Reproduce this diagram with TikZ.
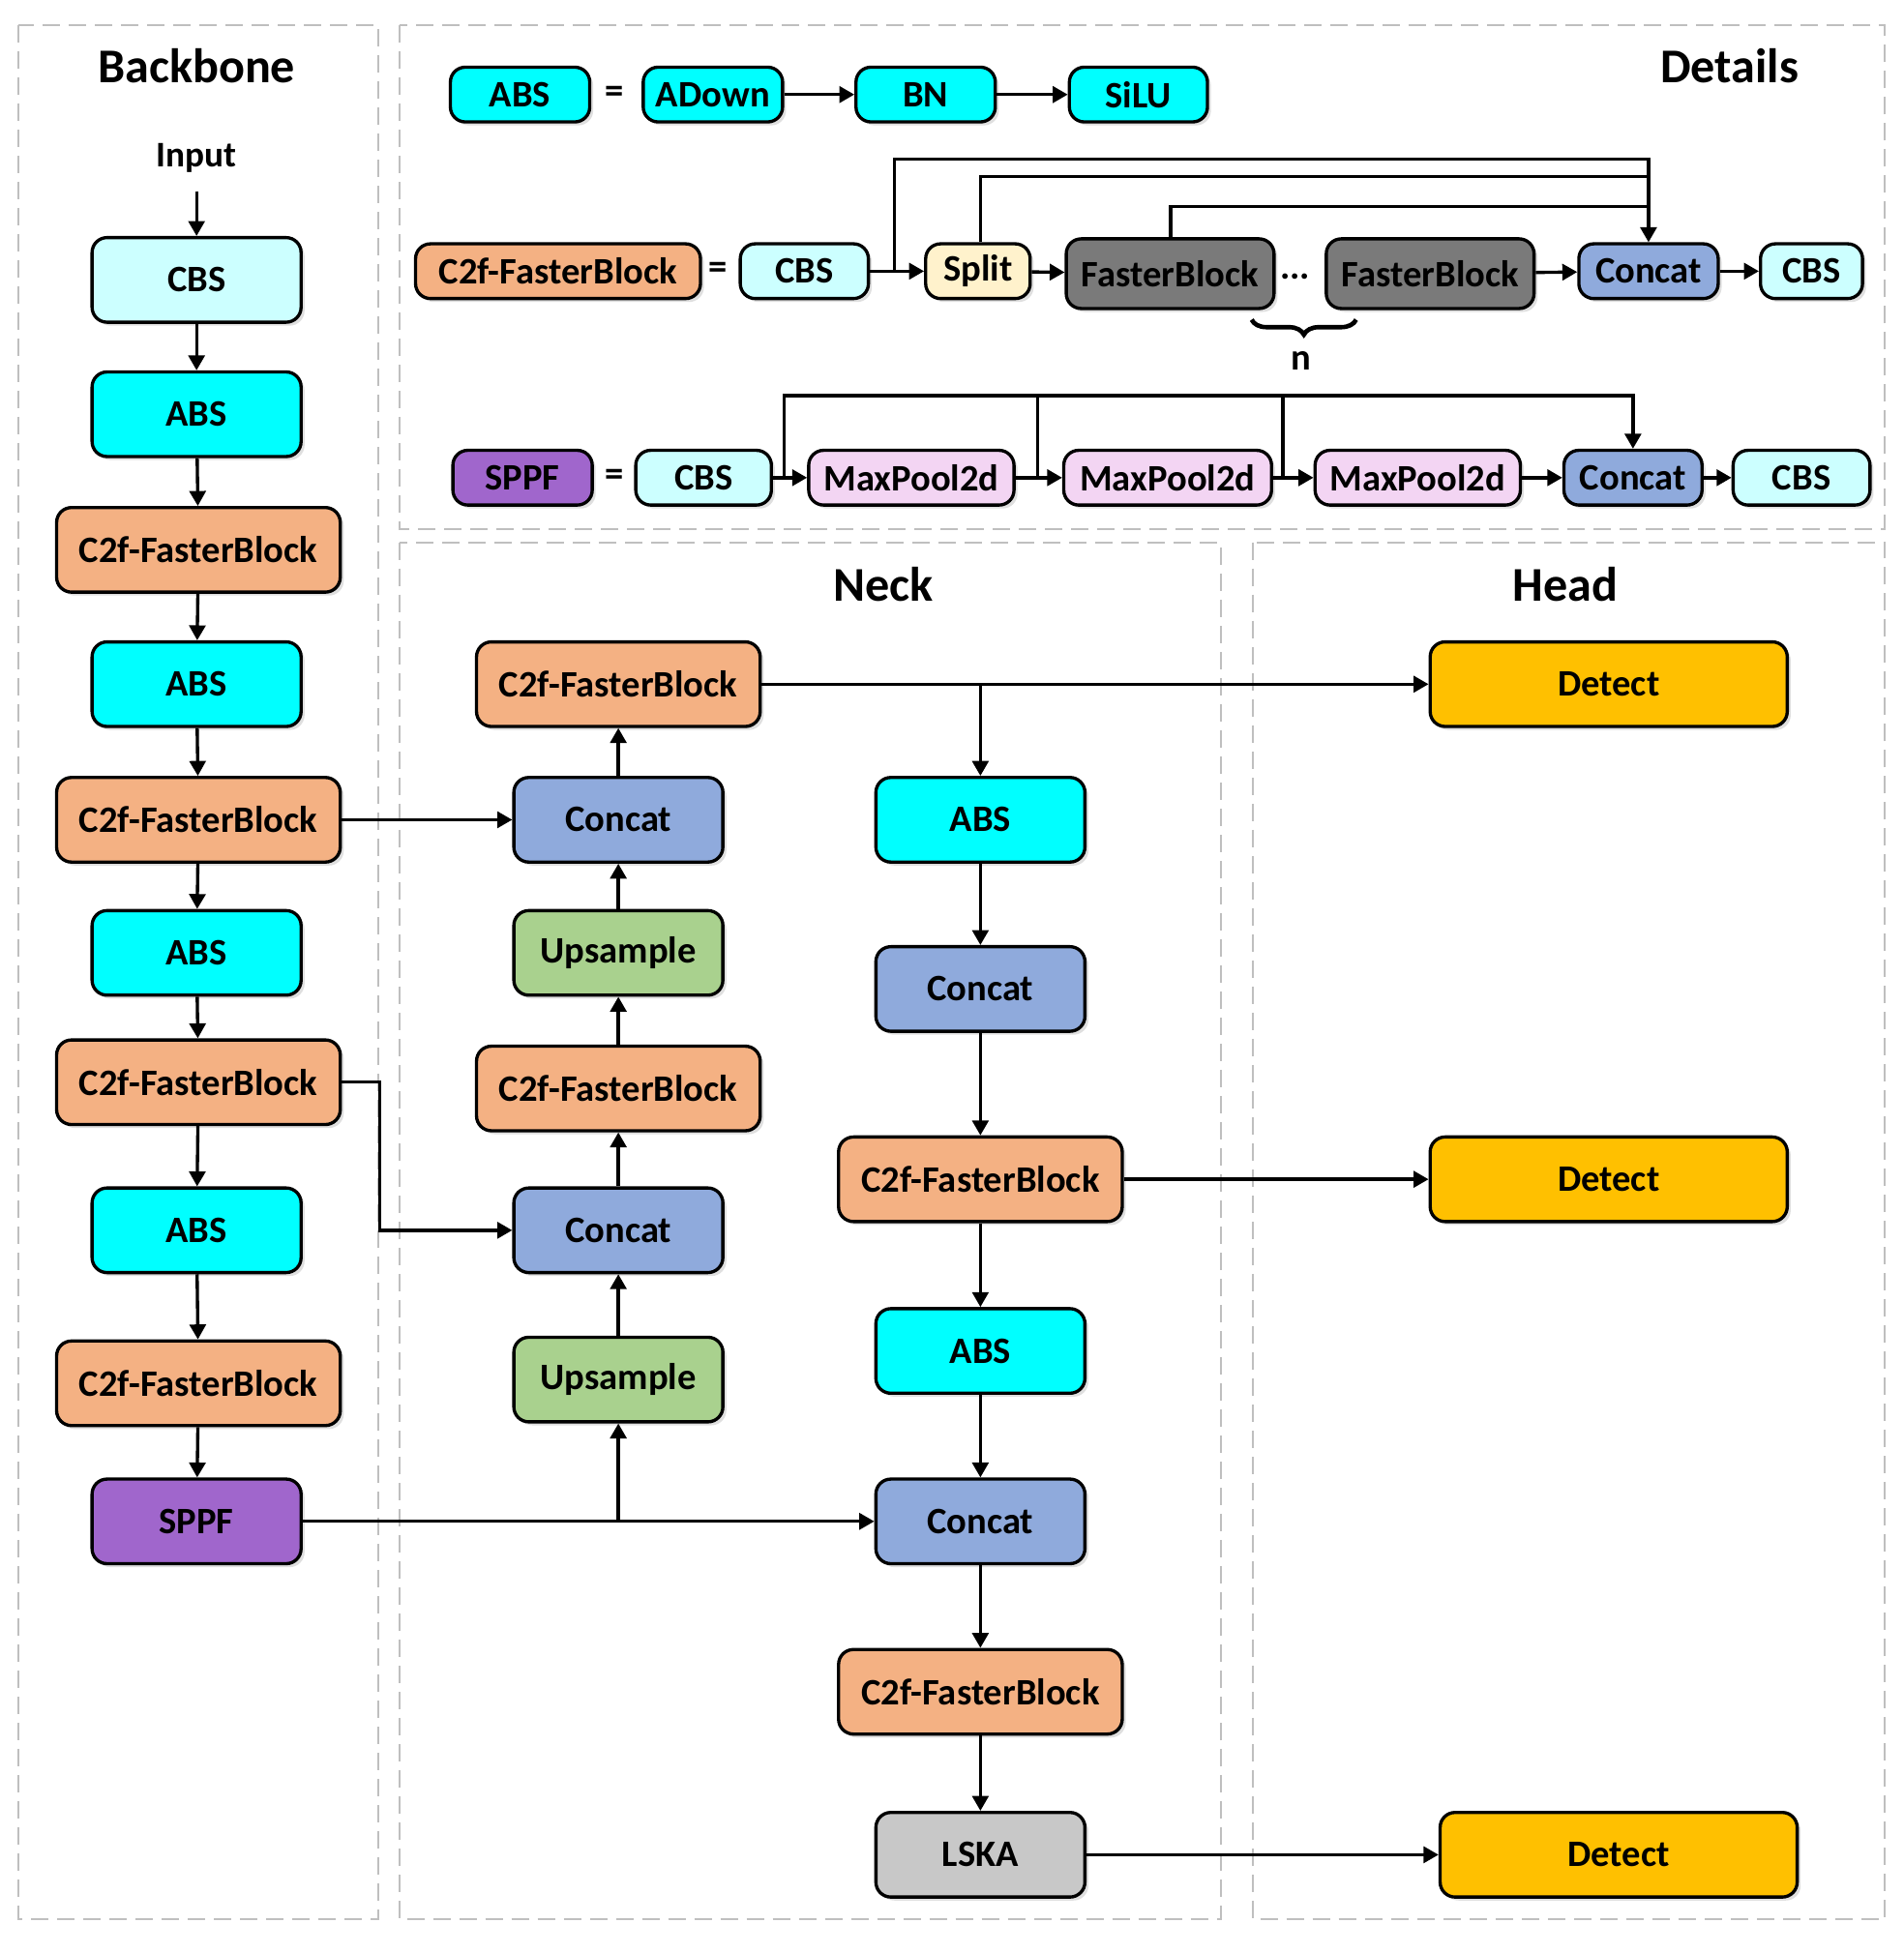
\documentclass[tikz,border=0pt]{standalone}
\usepackage{fontspec}
\setmainfont{Carlito}
\usetikzlibrary{arrows.meta,shadows,decorations.pathreplacing,calc}
\definecolor{cbsc}{HTML}{CCFFFF}
\definecolor{absc}{HTML}{00FFFF}
\definecolor{c2fc}{HTML}{F4B183}
\definecolor{catc}{HTML}{8FAADC}
\definecolor{upc}{HTML}{A9D18E}
\definecolor{sppfc}{HTML}{A066CC}
\definecolor{lskac}{HTML}{C8C8C8}
\definecolor{detc}{HTML}{FFC000}
\definecolor{splitc}{HTML}{FFF2CC}
\definecolor{fbc}{HTML}{7A7A7A}
\definecolor{mpc}{HTML}{F3D5F3}
\begin{document}
\begin{tikzpicture}[x=0.5pt,y=-0.5pt,
  box/.style={draw=black, line width=1.3pt, rounded corners=6pt, align=center, inner sep=0pt,
    font=\fontsize{15}{17}\selectfont\bfseries,
    drop shadow={shadow xshift=1.4pt, shadow yshift=-1.4pt, fill=black!25, opacity=0.5}},
  big/.style={box, minimum height=34pt},
  sm/.style={big, minimum width=84pt},
  wide/.style={big, minimum width=114pt},
  det/.style={big, minimum width=143.5pt, fill=detc},
  dt/.style={box, minimum height=22pt, font=\fontsize{15}{17}\selectfont\bfseries},
  arr/.style={-{Triangle[length=6pt,width=6.5pt]}, line width=1.3pt},
  ln/.style={line width=1.3pt},
  panel/.style={draw=black!25, line width=0.8pt, dash pattern=on 7pt off 3.5pt},
  ttl/.style={font=\fontsize{19.5}{22}\selectfont\bfseries},
  eq/.style={font=\fontsize{15}{17}\selectfont\bfseries}
]
\useasboundingbox (0,0) rectangle (1530,1570);
% panels
\draw[panel] (15,20) rectangle (304,1543);
\draw[panel] (321,20) rectangle (1515,425);
\draw[panel] (321,436) rectangle (981,1543);
\draw[panel] (1007,436) rectangle (1515,1543);
% titles
\node[ttl] (tbb) at (158,53) {Backbone};
\node[ttl] (tdt) at (1390,53) {Details};
\node[ttl] (tnk) at (710,470) {Neck};
\node[ttl] (thd) at (1258,470) {Head};

% ---------- Backbone ----------
\node[font=\fontsize{14.5}{16}\selectfont\bfseries] (inp) at (158,127) {Input};
\node[sm, fill=cbsc] (b1) at (158,225) {CBS};
\node[sm, fill=absc] (b2) at (158,333) {ABS};
\node[wide, fill=c2fc] (b3) at (159.5,442) {C2f-FasterBlock};
\node[sm, fill=absc] (b4) at (158,550) {ABS};
\node[wide, fill=c2fc] (b5) at (159.5,659) {C2f-FasterBlock};
\node[sm, fill=absc] (b6) at (158,766) {ABS};
\node[wide, fill=c2fc] (b7) at (159.5,870) {C2f-FasterBlock};
\node[sm, fill=absc] (b8) at (158,989) {ABS};
\node[wide, fill=c2fc] (b9) at (159.5,1112) {C2f-FasterBlock};
\node[sm, fill=sppfc] (b10) at (158,1223) {SPPF};
\draw[arr] (inp.south) ++(0,8) -- (b1.north);
\foreach \a/\b in {b1/b2,b2/b3,b3/b4,b4/b5,b5/b6,b6/b7,b7/b8,b8/b9,b9/b10}
  \draw[arr] (\a) -- (\b);

% ---------- Neck left ----------
\node[wide, fill=c2fc] (n1) at (497,550) {C2f-FasterBlock};
\node[sm, fill=catc] (n2) at (497,659) {Concat};
\node[sm, fill=upc] (n3) at (497,766) {Upsample};
\node[wide, fill=c2fc] (n4) at (497,875) {C2f-FasterBlock};
\node[sm, fill=catc] (n5) at (497,989) {Concat};
\node[sm, fill=upc] (n6) at (497,1109) {Upsample};
\foreach \a/\b in {n6/n5,n5/n4,n4/n3,n3/n2,n2/n1}
  \draw[arr] (\a) -- (\b);

% ---------- Neck right ----------
\node[sm, fill=absc] (r1) at (788,659) {ABS};
\node[sm, fill=catc] (r2) at (788,795) {Concat};
\node[wide, fill=c2fc] (r3) at (788,948) {C2f-FasterBlock};
\node[sm, fill=absc] (r4) at (788,1086) {ABS};
\node[sm, fill=catc] (r5) at (788,1223) {Concat};
\node[wide, fill=c2fc] (r6) at (788,1360) {C2f-FasterBlock};
\node[sm, fill=lskac] (r7) at (788,1491) {LSKA};
\foreach \a/\b in {r1/r2,r2/r3,r3/r4,r4/r5,r5/r6,r6/r7}
  \draw[arr] (\a) -- (\b);

% ---------- Head ----------
\node[det] (d1) at (1293,550) {Detect};
\node[det] (d2) at (1293,948) {Detect};
\node[det] (d3) at (1301,1491) {Detect};

% ---------- cross connections ----------
\draw[arr] (b5.east) -- (n2.west);
\coordinate (k7) at (305,870);
\draw[arr] (b7.east) -- (k7) |- (n5.west);
\draw[arr] (b10.east) -- (r5.west);
\coordinate (ksp) at (n6.south |- b10.east);
\draw[arr] (ksp) -- (n6.south);
\draw[arr] (n1.east) -- (d1.west);
\coordinate (kn1) at (r1.north |- n1.east);
\draw[arr] (kn1) -- (r1.north);
\draw[arr] (r3.east) -- (d2.west);
\draw[arr] (r7.east) -- (d3.west);

% ---------- Details row 1 ----------
\node[dt, fill=absc, minimum width=56pt] (e1) at (418,76) {ABS};
\node[eq] (eq1) at (494,76) {=};
\node[dt, fill=absc, minimum width=56pt] (e2) at (573,76) {ADown};
\node[dt, fill=absc, minimum width=56pt] (e3) at (744,76) {BN};
\node[dt, fill=absc, minimum width=55.5pt] (e4) at (915,76) {SiLU};
\draw[arr] (e2) -- (e3);
\draw[arr] (e3) -- (e4);

% ---------- Details row 2 ----------
\node[dt, fill=c2fc, minimum width=114.5pt] (f1) at (448.5,218) {C2f-FasterBlock};
\node[eq] (eq2) at (577,218) {=};
\node[dt, fill=cbsc, minimum width=51.5pt] (f2) at (646.5,218) {CBS};
\node[dt, fill=splitc, minimum width=42pt] (f3) at (786,218) {Split};
\node[dt, fill=fbc, minimum width=83.5pt, minimum height=28pt] (f4) at (940.5,220) {FasterBlock};
\node[eq] (dots) at (1041,222) {...};
\node[dt, fill=fbc, minimum width=83.5pt, minimum height=28pt] (f5) at (1149.5,220) {FasterBlock};
\node[dt, fill=catc, minimum width=56pt] (f6) at (1325,218) {Concat};
\node[dt, fill=cbsc, minimum width=41pt] (f7) at (1456,218) {CBS};
\draw[arr] (f2) -- (f3);
\draw[arr] (f3) -- (f4);
\draw[arr] (f5) -- (f6);
\draw[arr] (f6) -- (f7);
\coordinate (kf2) at (719,218);
\coordinate (tf2) at (719,128);
\coordinate (tf3) at (788,142);
\coordinate (tf4) at (941,166);
\draw[arr] (kf2) -- (tf2) -| (f6.north);
\draw[ln] (f3.north -| tf3) -- (tf3) -- (tf3 -| f6.north);
\draw[ln] (f4.north -| tf4) -- (tf4) -- (tf4 -| f6.north);
\draw[decorate, decoration={brace, mirror, amplitude=6pt}, line width=1.8pt] (1006,257) -- (1090,257);
\node[eq] (nlab) at (1046,290) {n};

% ---------- Details row 3 ----------
\node[dt, fill=sppfc, minimum width=56pt] (g1) at (420,384) {SPPF};
\node[eq] (eq3) at (494,384) {=};
\node[dt, fill=cbsc, minimum width=54.5pt] (g2) at (565.5,384) {CBS};
\node[dt, fill=mpc, minimum width=82.5pt] (g3) at (732.5,384) {MaxPool2d};
\node[dt, fill=mpc, minimum width=83.5pt] (g4) at (938.5,384) {MaxPool2d};
\node[dt, fill=mpc, minimum width=82.5pt] (g5) at (1139.5,384) {MaxPool2d};
\node[dt, fill=catc, minimum width=55.5pt] (g6) at (1312.5,384) {Concat};
\node[dt, fill=cbsc, minimum width=55pt] (g7) at (1448,384) {CBS};
\draw[arr] (g2) -- (g3);
\draw[arr] (g3) -- (g4);
\draw[arr] (g4) -- (g5);
\draw[arr] (g5) -- (g6);
\draw[arr] (g6) -- (g7);
\coordinate (kg2) at (630,384);
\coordinate (kg3) at (834,384);
\coordinate (kg4) at (1031,384);
\coordinate (tg) at (630,318);
\draw[arr] (kg2) -- (tg) -| (g6.north);
\draw[ln] (kg3) -- (kg3 |- tg);
\draw[ln] (kg4) -- (kg4 |- tg);
\end{tikzpicture}
\end{document}
